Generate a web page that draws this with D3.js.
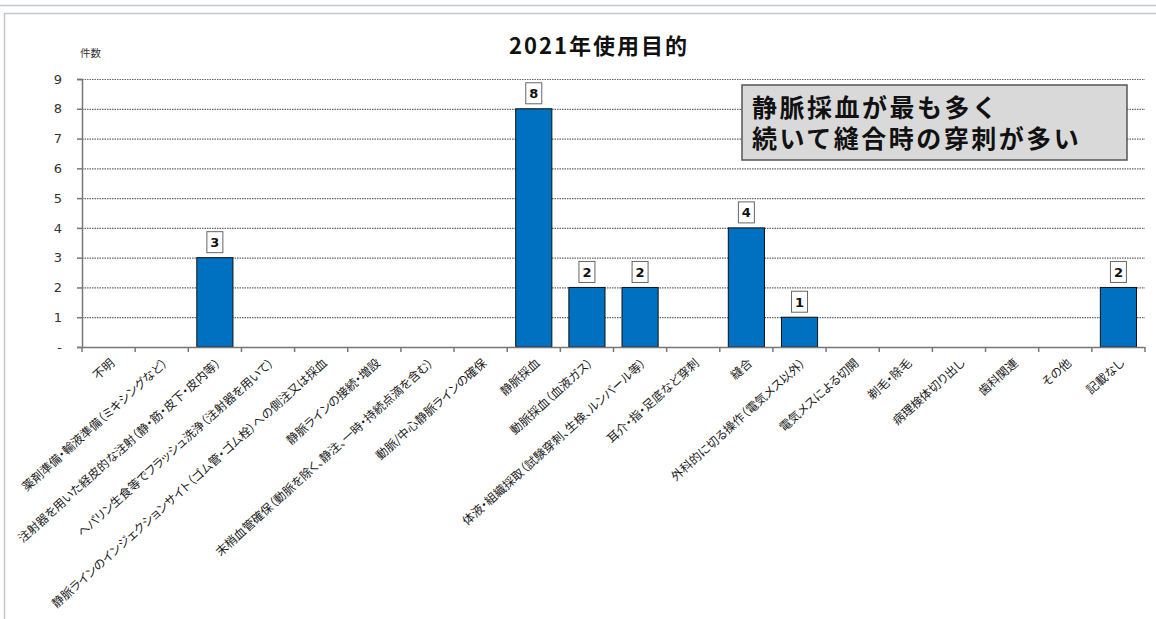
<!DOCTYPE html>
<html>
<head>
<meta charset="utf-8">
<script src="https://cdn.jsdelivr.net/npm/d3@7"></script>
<style>
  body { margin: 0; background: #fff; }
  svg { display: block; font-family: "Noto Sans CJK JP", "Noto Sans", sans-serif; }
  .cat { font-feature-settings: "palt"; }
</style>
</head>
<body>
<div id="chart"></div>
<script>
// data
const categories = [
  "不明",
  "薬剤準備・輸液準備（ミキシングなど）",
  "注射器を用いた経皮的な注射（静・筋・皮下・皮内等）",
  "ヘパリン生食等でフラッシュ洗浄（注射器を用いて）",
  "静脈ラインのインジェクションサイト（ゴム管・ゴム栓）への側注又は採血",
  "静脈ラインの接続・増設",
  "末梢血管確保（動脈を除く、静注、一時・持続点滴を含む）",
  "動脈/中心静脈ラインの確保",
  "静脈採血",
  "動脈採血（血液ガス）",
  "体液・組織採取（試験穿刺、生検、ルンバール等）",
  "耳介・指・足底など穿刺",
  "縫合",
  "外科的に切る操作（電気メス以外）",
  "電気メスによる切開",
  "剃毛・除毛",
  "病理検体切り出し",
  "歯科関連",
  "その他",
  "記載なし"
];
const counts = [0, 0, 3, 0, 0, 0, 0, 0, 8, 2, 2, 0, 4, 1, 0, 0, 0, 0, 0, 2];
const yTicks = [0, 1, 2, 3, 4, 5, 6, 7, 8, 9];
const title = "2021年使用目的";
const yLabel = "件数";
const note = ["静脈採血が最も多く", "続いて縫合時の穿刺が多い"];

(function () {
  const W = 1156, H = 619;
  const left = 82, right = 1145, top = 79, bottom = 347;

  const svg = d3.select("#chart").append("svg")
    .attr("width", W)
    .attr("height", H);

  // frame lines around the chart
  svg.append("line").attr("x1", 0).attr("x2", W).attr("y1", 5.5).attr("y2", 5.5)
    .attr("stroke", "#c4c8cc").attr("stroke-width", 1.5);
  svg.append("path")
    .attr("d", `M4.5,${H} V13.5 H${W}`)
    .attr("fill", "none").attr("stroke", "#c4c8cc").attr("stroke-width", 1.5);

  const x = d3.scaleBand().domain(categories).range([left, right]).paddingInner(0.32).paddingOuter(0.16);
  const y = d3.scaleLinear().domain([0, 9]).range([bottom, top]);

  // gridlines
  svg.append("g").selectAll("line")
    .data(yTicks.filter(d => d > 0))
    .join("line")
    .attr("x1", left).attr("x2", right)
    .attr("y1", d => y(d) + 0.5).attr("y2", d => y(d) + 0.5)
    .attr("stroke", "#666")
    .attr("stroke-width", 1.2)
    .attr("stroke-dasharray", "1.5,1");

  // y axis
  const yAxis = svg.append("g")
    .attr("transform", `translate(${left},0)`)
    .call(d3.axisLeft(y).tickValues(yTicks).tickSize(5).tickPadding(15)
      .tickFormat(d => d === 0 ? "-" : d));
  yAxis.select(".domain").attr("stroke", "#777").attr("stroke-width", 1.5);
  yAxis.selectAll(".tick line").attr("stroke", "#777").attr("stroke-width", 1.5);
  yAxis.selectAll("text").attr("font-size", 13).attr("fill", "#333")
    .attr("font-family", "'DejaVu Sans', sans-serif");

  // bars
  svg.append("g").selectAll("rect")
    .data(counts.map((v, i) => ({ c: categories[i], v })).filter(d => d.v > 0))
    .join("rect")
    .attr("x", d => x(d.c))
    .attr("y", d => y(d.v))
    .attr("width", x.bandwidth())
    .attr("height", d => y(0) - y(d.v))
    .attr("fill", "#0070C0")
    .attr("stroke", "#111")
    .attr("stroke-width", 1);

  // x axis line + ticks at band boundaries
  const step = x.step();
  const xAxis = svg.append("g");
  xAxis.append("line")
    .attr("x1", left).attr("x2", right)
    .attr("y1", bottom + 0.5).attr("y2", bottom + 0.5)
    .attr("stroke", "#777").attr("stroke-width", 1.5);
  xAxis.selectAll("line.tk")
    .data(d3.range(categories.length + 1))
    .join("line")
    .attr("class", "tk")
    .attr("x1", i => left + i * step).attr("x2", i => left + i * step)
    .attr("y1", bottom).attr("y2", bottom + 5)
    .attr("stroke", "#777").attr("stroke-width", 1.5);

  // rotated category labels
  xAxis.selectAll("text")
    .data(categories)
    .join("text")
    .attr("class", "cat")
    .attr("transform", d => `translate(${x(d) + x.bandwidth() / 2 + 4},${bottom + 14}) rotate(-42)`)
    .attr("text-anchor", "end")
    .attr("dy", "0.35em")
    .attr("font-size", 12)
    .attr("fill", "#1a1a1a")
    .text(d => d);

  // value labels
  const lab = svg.append("g").selectAll("g")
    .data(counts.map((v, i) => ({ c: categories[i], v })).filter(d => d.v > 0))
    .join("g")
    .attr("transform", d => `translate(${x(d.c) + x.bandwidth() / 2},${y(d.v) - 4})`);
  lab.append("rect")
    .attr("x", -8).attr("y", -22).attr("width", 16).attr("height", 21)
    .attr("fill", "#fff").attr("stroke", "#666").attr("stroke-width", 1);
  lab.append("text")
    .attr("y", -6.5)
    .attr("text-anchor", "middle")
    .attr("font-size", 13)
    .attr("font-weight", "bold")
    .attr("font-family", "'DejaVu Sans', sans-serif")
    .attr("fill", "#111")
    .text(d => d.v);

  // title and axis caption
  svg.append("text")
    .attr("x", 599).attr("y", 54)
    .attr("text-anchor", "middle")
    .attr("font-size", 22)
    .attr("letter-spacing", 2)
    .attr("font-weight", "bold")
    .attr("fill", "#111")
    .text(title);
  svg.append("text")
    .attr("x", 80).attr("y", 57)
    .attr("font-size", 10.5)
    .attr("fill", "#333")
    .text(yLabel);

  // note box (two lines in one text element)
  const nb = svg.append("g").attr("transform", "translate(742,85)");
  nb.append("rect")
    .attr("width", 385).attr("height", 75)
    .attr("fill", "#d9d9d9").attr("stroke", "#555").attr("stroke-width", 1.5);
  nb.append("text")
    .attr("y", 32)
    .attr("font-size", 25)
    .attr("letter-spacing", 2.5)
    .attr("font-weight", "bold")
    .attr("fill", "#111")
    .selectAll("tspan")
    .data(note)
    .join("tspan")
    .attr("x", 10)
    .attr("dy", (d, i) => i === 0 ? 0 : 31)
    .text(d => d);
})();
</script>
</body>
</html>
